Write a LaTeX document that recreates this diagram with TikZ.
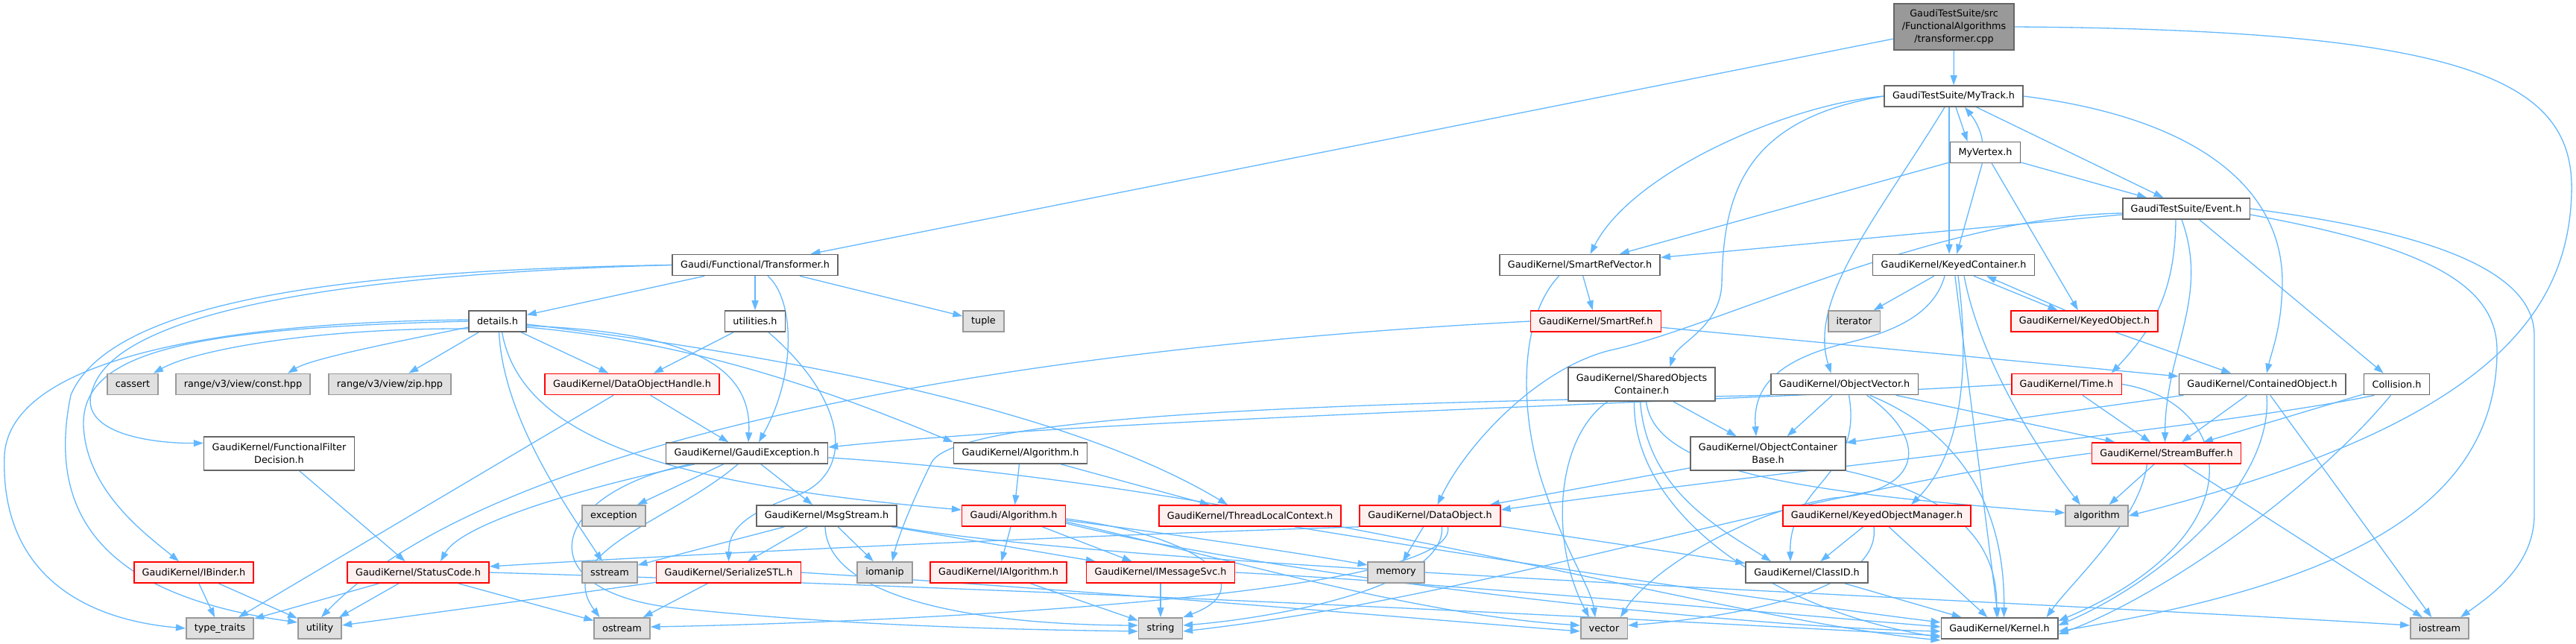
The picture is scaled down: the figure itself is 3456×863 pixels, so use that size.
\documentclass[tikz,border=0pt]{standalone}
\usepackage{fontspec}
\setmainfont{DejaVu Sans}
\usetikzlibrary{arrows.meta,backgrounds}

\definecolor{edgeblue}{HTML}{63B8FF}
\definecolor{boxgray}{HTML}{666666}
\definecolor{sysfill}{HTML}{E0E0E0}
\definecolor{sysline}{HTML}{999999}
\definecolor{redfill}{HTML}{FFF0F0}

\tikzset{
  hdr/.style={draw=boxgray, fill=white, line width=0.8pt, inner xsep=5.5pt, inner ysep=1pt,
    minimum height=14pt, align=center, font=\fontsize{6.4}{8.5}\selectfont},
  hdrred/.style={hdr, draw=red, fill=redfill},
  sys/.style={hdr, draw=sysline, fill=sysfill},
  twoline/.style={minimum height=22.5pt},
  incl/.style={draw=edgeblue, line width=0.65pt, -{Triangle[length=6.5pt,width=4.5pt]}}
}

\begin{document}
\begin{tikzpicture}[x=0.5pt,y=-0.5pt]
  \useasboundingbox (0,0) rectangle (3456,863);

  \node[hdr, fill=sysline, minimum height=31pt] (cpp) at (2621.5,36) {GaudiTestSuite/src\\/FunctionalAlgorithms\\/transformer.cpp};
  \node[hdr] (mytrack) at (2621,129) {GaudiTestSuite/MyTrack.h};
  \node[hdr] (myvertex) at (2663.5,204.5) {MyVertex.h};
  \node[hdr] (event) at (2933,280) {GaudiTestSuite/Event.h};
  \node[hdr] (transformer) at (1013,355.5) {Gaudi/Functional/Transformer.h};
  \node[hdr] (srefvec) at (2119.5,355.5) {GaudiKernel/SmartRefVector.h};
  \node[hdr] (keyedcont) at (2621,355.5) {GaudiKernel/KeyedContainer.h};
  \node[hdr] (details) at (667.5,431) {details.h};
  \node[hdr] (utilities) at (1013,431) {utilities.h};
  \node[sys] (tuple) at (1319.5,431) {tuple};
  \node[hdrred] (smartref) at (2141,431) {GaudiKernel/SmartRef.h};
  \node[sys] (iterator) at (2487.5,431) {iterator};
  \node[hdrred] (keyedobj) at (2796.5,431) {GaudiKernel/KeyedObject.h};
  \node[sys] (cassert) at (178,515.5) {cassert};
  \node[sys] (consthpp) at (326,515.5) {range/v3/view/const.hpp};
  \node[sys] (ziphpp) at (523,515.5) {range/v3/view/zip.hpp};
  \node[hdrred] (dohandle) at (848,515.5) {GaudiKernel/DataObjectHandle.h};
  \node[hdr, twoline] (sharedobj) at (2202.5,515.5) {GaudiKernel/SharedObjects\\Container.h};
  \node[hdr] (objvector) at (2474.5,515.5) {GaudiKernel/ObjectVector.h};
  \node[hdrred] (time) at (2772.5,515.5) {GaudiKernel/Time.h};
  \node[hdr] (contained) at (3035,515.5) {GaudiKernel/ContainedObject.h};
  \node[hdr] (collision) at (3215.5,515.5) {Collision.h};
  \node[hdr, twoline] (filterdec) at (374.5,608.5) {GaudiKernel/FunctionalFilter\\Decision.h};
  \node[hdr] (gaudiexc) at (1002,608) {GaudiKernel/GaudiException.h};
  \node[hdr] (kalgorithm) at (1369,608) {GaudiKernel/Algorithm.h};
  \node[hdr, twoline] (objcontbase) at (2372,608.5) {GaudiKernel/ObjectContainer\\Base.h};
  \node[hdrred] (streambuf) at (2906.5,608) {GaudiKernel/StreamBuffer.h};
  \node[sys] (exception) at (823.5,692) {exception};
  \node[hdr] (msgstream) at (1109,692) {GaudiKernel/MsgStream.h};
  \node[hdrred] (galgorithm) at (1360,692) {Gaudi/Algorithm.h};
  \node[hdrred] (threadctx) at (1677,692) {GaudiKernel/ThreadLocalContext.h};
  \node[hdrred] (dataobject) at (1918.5,692) {GaudiKernel/DataObject.h};
  \node[hdrred] (keyedobjmgr) at (2518,692) {GaudiKernel/KeyedObjectManager.h};
  \node[sys] (algorithm) at (2813,692) {algorithm};
  \node[hdrred] (ibinder) at (260,768) {GaudiKernel/IBinder.h};
  \node[hdrred] (statuscode) at (561,768) {GaudiKernel/StatusCode.h};
  \node[sys] (sstream) at (818,768) {sstream};
  \node[hdrred] (serializestl) at (977.5,768) {GaudiKernel/SerializeSTL.h};
  \node[sys] (iomanip) at (1187,768) {iomanip};
  \node[hdrred] (ialgorithm) at (1339.5,768) {GaudiKernel/IAlgorithm.h};
  \node[hdrred] (imessagesvc) at (1557,768) {GaudiKernel/IMessageSvc.h};
  \node[sys] (memory) at (1873,768) {memory};
  \node[hdr] (classid) at (2424,768) {GaudiKernel/ClassID.h};
  \node[sys] (typetraits) at (295,843) {type\_traits};
  \node[sys] (utility) at (429,843) {utility};
  \node[sys] (ostream) at (834.5,843) {ostream};
  \node[sys] (string) at (1557,843) {string};
  \node[sys] (vector) at (2152,843) {vector};
  \node[hdr] (kernel) at (2682.5,843) {GaudiKernel/Kernel.h};
  \node[sys] (iostream) at (3273,843) {iostream};

  \begin{scope}[on background layer]
    \foreach \a/\b in {cpp/transformer, cpp/mytrack, myvertex/srefvec, myvertex/keyedcont,
        myvertex/keyedobj, myvertex/event, mytrack/event, event/srefvec, event/collision,
        transformer/details, transformer/utilities, transformer/tuple, srefvec/smartref,
        keyedcont/iterator, keyedcont/kernel, keyedobj/contained, smartref/contained,
        details/ziphpp, details/dohandle, utilities/dohandle, dohandle/gaudiexc, dohandle/typetraits,
        filterdec/statuscode, ibinder/typetraits, ibinder/utility, statuscode/typetraits,
        statuscode/utility, statuscode/ostream, gaudiexc/exception, gaudiexc/msgstream,
        msgstream/sstream, msgstream/serializestl, msgstream/iomanip, msgstream/imessagesvc,
        serializestl/ostream, serializestl/utility, kalgorithm/galgorithm, kalgorithm/threadctx,
        galgorithm/ialgorithm, galgorithm/imessagesvc, ialgorithm/string, imessagesvc/string,
        dataobject/memory, dataobject/classid, sharedobj/objcontbase, objvector/objcontbase,
        objvector/streambuf, time/streambuf, contained/streambuf, contained/iostream,
        contained/objcontbase, collision/streambuf, streambuf/algorithm, streambuf/iostream,
        keyedobjmgr/classid, keyedobjmgr/kernel, classid/kernel, objcontbase/dataobject} {
      \draw[incl] (\a) -- (\b);
    }

    \draw[incl] ([xshift=1.5pt]mytrack.south) -- ([xshift=-12pt]myvertex.north);
    \draw[incl] ([xshift=-2pt]myvertex.north) .. controls (2657,170) and (2645,155) .. ([xshift=7.5pt]mytrack.south);
    \draw[incl] ([xshift=13.5pt]keyedcont.south) -- ([xshift=-18pt]keyedobj.north);
    \draw[incl] ([xshift=-13pt]keyedobj.north) -- ([xshift=22pt]keyedcont.south);
    \draw[incl] ([xshift=-3pt]mytrack.south) -- ([xshift=-3pt]keyedcont.north);

    \draw[incl] (cpp.east) .. controls (3320,40) and (3455,110) .. (3450,260)
      .. controls (3445,420) and (3340,570) .. (algorithm.east);
    \draw[incl] (mytrack.west) .. controls (2400,140) and (2190,230) .. ([xshift=7pt]srefvec.north);
    \draw[incl] (mytrack.west) .. controls (2340,160) and (2312,260) .. (2310,380)
      .. controls (2308,440) and (2250,460) .. ([xshift=19pt]sharedobj.north);
    \draw[incl] ([xshift=-6pt]mytrack.south) .. controls (2520,290) and (2425,400) .. ([xshift=-9pt]objvector.north);
    \draw[incl] (mytrack.east) .. controls (2960,160) and (3063,260) .. (3062,380)
      .. controls (3061,440) and (3048,470) .. ([xshift=3pt]contained.north);

    \draw[incl] ([yshift=-3pt]event.west) .. controls (2600,290) and (2300,440) .. (2160,470)
      .. controls (2060,495) and (1965,600) .. ([xshift=5pt]dataobject.north);
    \draw[incl] ([xshift=-7pt]event.south) .. controls (2918,390) and (2890,440) .. ([xshift=30pt]time.north);
    \draw[incl] ([xshift=-3pt]event.south) .. controls (2965,400) and (2905,470) .. ([xshift=-1pt]streambuf.north);
    \draw[incl] (event.east) .. controls (3250,310) and (3400,360) .. (3400,450) -- (3400,690)
      .. controls (3400,760) and (3340,800) .. ([xshift=14pt]iostream.north);
    \draw[incl] ([yshift=-4pt]event.east) .. controls (3250,330) and (3350,380) .. (3350,470)
      .. controls (3350,700) and (3100,790) .. ([yshift=-2pt]kernel.east);

    \draw[incl] (time.east) .. controls (3000,540) and (3030,720) .. ([yshift=5pt]kernel.east);
    \draw[incl] ([xshift=3pt]contained.south) .. controls (3050,650) and (2900,780) .. ([yshift=2pt]kernel.east);
    \draw[incl] ([xshift=-4pt]collision.south) .. controls (3100,660) and (2900,800) .. ([yshift=-4pt]kernel.east);
    \draw[incl] ([xshift=-13pt]streambuf.south) .. controls (2870,700) and (2780,780) .. ([xshift=-8pt]kernel.north east);
    \draw[incl] ([xshift=-15pt]collision.south) .. controls (3000,570) and (2400,630) .. ([yshift=4pt]dataobject.east);
    \draw[incl] (time.west) .. controls (2300,540) and (1500,560) .. ([yshift=4pt]gaudiexc.east);
    \draw[incl] (objvector.south west) .. controls (1900,540) and (1290,550) .. (1250,620)
      .. controls (1225,670) and (1205,720) .. ([xshift=5pt]iomanip.north);

    \draw[incl] ([yshift=-5pt]details.west) .. controls (420,440) and (260,470) .. ([xshift=14pt]cassert.north);
    \draw[incl] ([yshift=-4pt]details.west) .. controls (550,455) and (420,480) .. ([xshift=30pt]consthpp.north);
    \draw[incl] ([yshift=1pt]details.west) .. controls (300,432) and (15,480) .. (6,610)
      .. controls (0,760) and (100,830) .. (typetraits.west);
    \draw[incl] (details.west) .. controls (260,440) and (110,470) .. (112,570)
      .. controls (115,660) and (200,720) .. ([xshift=-10pt]ibinder.north);
    \draw[incl] (transformer.west) .. controls (480,362) and (150,400) .. (95,530)
      .. controls (60,700) and (150,800) .. ([yshift=4pt]utility.west);
    \draw[incl] (transformer.west) .. controls (450,368) and (160,420) .. (125,520)
      .. controls (100,580) and (200,595) .. ([yshift=7pt]filterdec.west);
    \draw[incl] ([xshift=1pt]details.south) .. controls (675,560) and (760,680) .. ([xshift=-5pt]sstream.north);
    \draw[incl] ([xshift=3pt]details.south) .. controls (700,590) and (900,650) .. ([yshift=4pt]galgorithm.west);
    \draw[incl] ([yshift=-3pt]details.east) .. controls (900,445) and (1010,480) .. ([xshift=1pt]gaudiexc.north);
    \draw[incl] ([yshift=-4pt]details.east) .. controls (950,460) and (1150,540) .. (kalgorithm.north west);
    \draw[incl] ([yshift=-2pt]details.east) .. controls (1000,470) and (1420,540) .. ([xshift=-15pt]threadctx.north);
    \draw[incl] ([xshift=8.5pt]transformer.south) .. controls (1065,400) and (1070,500) .. ([xshift=8pt]gaudiexc.north);
    \draw[incl] ([xshift=9pt]utilities.south) .. controls (1140,540) and (1150,640) .. (1060,668)
      .. controls (985,695) and (978,720) .. (serializestl.north);

    \draw[incl] ([xshift=-35pt]gaudiexc.south) .. controls (800,650) and (620,700) .. ([xshift=15pt]statuscode.north);
    \draw[incl] ([xshift=-38pt]gaudiexc.south) .. controls (740,660) and (700,790) .. (900,815)
      .. controls (1150,842) and (1400,845) .. ([yshift=-2pt]string.west);
    \draw[incl] ([xshift=-6pt]gaudiexc.south) .. controls (900,700) and (740,740) .. ([xshift=-15pt]ostream.north);
    \draw[incl] ([yshift=-3pt]gaudiexc.east) .. controls (1700,650) and (2300,830) .. ([yshift=-8pt]kernel.west);
    \draw[incl] ([xshift=-1pt]msgstream.south) .. controls (1110,800) and (1300,838) .. ([yshift=2pt]string.west);
    \draw[incl] (msgstream.south east) .. controls (1500,760) and (2600,800) .. ([yshift=2pt]iostream.west);
    \draw[incl] ([yshift=-2pt]galgorithm.east) .. controls (1620,720) and (1690,790) .. (string.north east);
    \draw[incl] ([yshift=-3pt]galgorithm.east) .. controls (1600,720) and (1760,745) .. ([yshift=5pt]memory.west);
    \draw[incl] ([yshift=-4pt]galgorithm.east) .. controls (1650,750) and (1900,825) .. ([yshift=2pt]vector.west);
    \draw[incl] ([yshift=-5pt]galgorithm.east) .. controls (1700,770) and (2300,840) .. ([yshift=-2pt]kernel.west);
    \draw[incl] (imessagesvc.east) .. controls (1900,780) and (2350,820) .. ([yshift=1pt]kernel.west);
    \draw[incl] ([xshift=30pt]threadctx.south) .. controls (2000,750) and (2400,810) .. ([yshift=4pt]kernel.west);
    \draw[incl] (statuscode.east) .. controls (1400,790) and (2200,830) .. ([yshift=-5pt]kernel.west);
    \draw[incl] ([xshift=8pt]dataobject.south) .. controls (1940,790) and (1700,830) .. ([yshift=2pt]string.east);
    \draw[incl] ([xshift=12pt]dataobject.south) .. controls (1960,800) and (1200,835) .. ([yshift=1pt]ostream.east);
    \draw[incl] (dataobject.south west) .. controls (1400,720) and (900,745) .. ([yshift=4pt]statuscode.east);
    \draw[incl] (streambuf.west) .. controls (2400,660) and (2000,800) .. ([yshift=-2pt]string.east);
    \draw[incl] (serializestl.east) .. controls (1500,795) and (1900,830) .. ([yshift=-2pt]vector.west);
    \draw[incl] (smartref.west) .. controls (1300,470) and (650,600) .. ([xshift=1pt]utility.north);

    \draw[incl] ([xshift=-14pt]srefvec.south) .. controls (2035,430) and (2040,560) .. (2070,650)
      .. controls (2100,740) and (2135,790) .. ([xshift=-6pt]vector.north);
    \draw[incl] ([xshift=-23pt]sharedobj.south) .. controls (2085,590) and (2080,730) .. ([xshift=-10pt]vector.north);
    \draw[incl] ([xshift=-5pt]sharedobj.south) .. controls (2190,690) and (2380,820) .. ([yshift=-6pt]kernel.west);
    \draw[incl] ([xshift=-1pt]sharedobj.south) .. controls (2210,660) and (2310,710) .. ([xshift=-24pt]classid.north);
    \draw[incl] ([xshift=3pt]sharedobj.south) .. controls (2220,630) and (2400,660) .. ([yshift=2pt]algorithm.west);
    \draw[incl] ([xshift=3pt]objvector.south) .. controls (2500,640) and (2400,650) .. ([xshift=-11pt]classid.north);
    \draw[incl] ([xshift=17pt]objvector.south) .. controls (2630,580) and (2690,680) .. ([xshift=3pt]kernel.north);
    \draw[incl] ([xshift=15pt]objvector.south) .. controls (2590,590) and (2580,660) .. (2460,668)
      .. controls (2330,690) and (2210,770) .. ([xshift=11pt]vector.north);
    \draw[incl] ([xshift=-6pt]keyedcont.south) .. controls (2595,420) and (2545,445) .. (2470,462)
      .. controls (2370,488) and (2352,530) .. ([xshift=-8pt]objcontbase.north);
    \draw[incl] ([xshift=3pt]keyedcont.south) .. controls (2640,470) and (2640,600) .. ([xshift=23pt]keyedobjmgr.north);
    \draw[incl] ([xshift=7pt]keyedcont.south) .. controls (2650,450) and (2700,560) .. ([xshift=-11pt]algorithm.north);
    \draw[incl] ([xshift=-2pt]keyedobjmgr.south) .. controls (2525,800) and (2300,830) .. ([yshift=2pt]vector.east);
    \draw[incl] (objcontbase.south east) .. controls (2650,670) and (2680,750) .. ([xshift=-2pt]kernel.north);
  \end{scope}
\end{tikzpicture}
\end{document}
